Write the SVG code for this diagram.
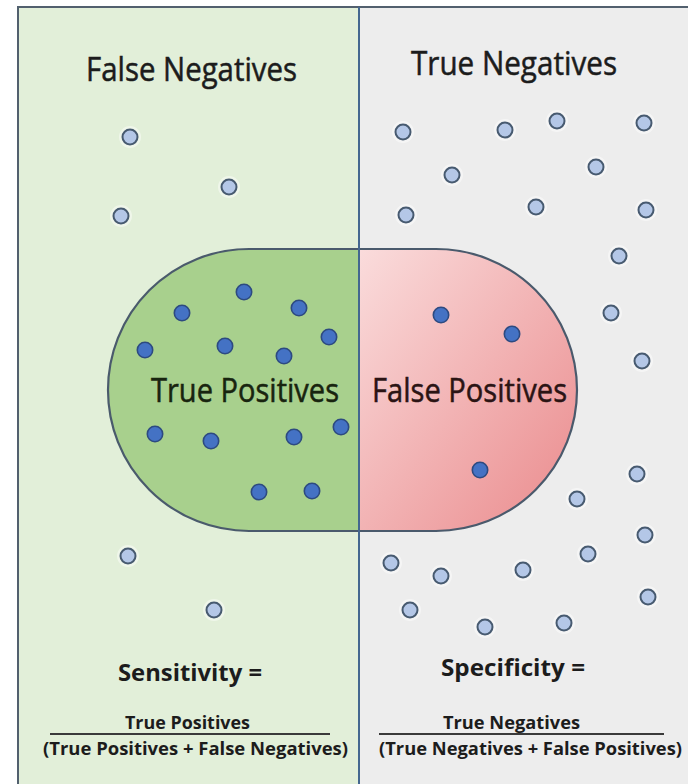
<svg xmlns="http://www.w3.org/2000/svg" xmlns:xlink="http://www.w3.org/1999/xlink" width="692" height="784" viewBox="0 0 692 784">
<style>
.title{font-family:"Open Sans","Liberation Sans",sans-serif;font-size:32px;fill:#1c1c1c;stroke:#1c1c1c;stroke-width:0.5}
.lab{font-family:"Open Sans","Liberation Sans",sans-serif;font-size:32px;stroke-width:0.5}
.eq{font-family:"Open Sans","Liberation Sans",sans-serif;font-weight:bold;font-size:24px;fill:#1c1c1c}
.fr{font-family:"Open Sans","Liberation Sans",sans-serif;font-weight:bold;font-size:18px;fill:#1c1c1c}
.frac{stroke:#3a3a3a;stroke-width:2}
.dk{fill:#4472c4;stroke:#2d4a80;stroke-width:1.6}
</style>
<defs>
<linearGradient id="pink" x1="0" y1="0" x2="1" y2="1">
<stop offset="0" stop-color="#fadcdc"/>
<stop offset="1" stop-color="#ea8a8c"/>
</linearGradient>
<g id="lt">
<circle r="11" fill="#ffffff" opacity="0.45"/>
<circle r="7.5" fill="#b4c7e7" stroke="#475a70" stroke-width="2"/>
</g>
</defs>
<rect x="0" y="0" width="692" height="784" fill="#ffffff"/>
<g id="panel-left">
<rect x="18" y="7" width="341" height="777" fill="#e2efd9"/>
<text class="title" x="86" y="81" textLength="211" lengthAdjust="spacingAndGlyphs">False Negatives</text>
</g>
<g id="panel-right">
<rect x="359" y="7" width="329" height="777" fill="#ededed"/>
<text class="title" x="411" y="75" textLength="206" lengthAdjust="spacingAndGlyphs">True Negatives</text>
</g>
<g id="frame">
<path d="M18 784 V7 H688" fill="none" stroke="#52606e" stroke-width="2"/>
</g>
<g id="true-positives">
<path d="M359 249 H249 A141 141 0 0 0 249 531 H359 Z" fill="#a8d08d"/>
</g>
<g id="false-positives">
<path d="M359 249 H436 A141 141 0 0 1 436 531 H359 Z" fill="url(#pink)"/>
</g>
<g id="condition-outline">
<path d="M249 249 H436 A141 141 0 0 1 436 531 H249 A141 141 0 0 1 249 249 Z" fill="none" stroke="#4a5a6c" stroke-width="2.2"/>
</g>
<g id="connectors">
<line x1="359" y1="7" x2="359" y2="784" stroke="#44678f" stroke-width="2"/>
</g>
<g id="labels">
<text class="lab" x="151" y="402" fill="#18240f" stroke="#18240f" textLength="188" lengthAdjust="spacingAndGlyphs">True Positives</text>
<text class="lab" x="372" y="402" fill="#2b1414" stroke="#2b1414" textLength="195" lengthAdjust="spacingAndGlyphs">False Positives</text>
</g>
<g id="dots-dark">
<circle class="dk" cx="244" cy="292" r="7.7"/>
<circle class="dk" cx="182" cy="313" r="7.7"/>
<circle class="dk" cx="299" cy="308" r="7.7"/>
<circle class="dk" cx="329" cy="337" r="7.7"/>
<circle class="dk" cx="145" cy="350" r="7.7"/>
<circle class="dk" cx="225" cy="346" r="7.7"/>
<circle class="dk" cx="284" cy="356" r="7.7"/>
<circle class="dk" cx="155" cy="434" r="7.7"/>
<circle class="dk" cx="211" cy="441" r="7.7"/>
<circle class="dk" cx="294" cy="437" r="7.7"/>
<circle class="dk" cx="341" cy="427" r="7.7"/>
<circle class="dk" cx="259" cy="492" r="7.7"/>
<circle class="dk" cx="312" cy="491" r="7.7"/>
<circle class="dk" cx="441" cy="315" r="7.7"/>
<circle class="dk" cx="512" cy="334" r="7.7"/>
<circle class="dk" cx="480" cy="470" r="7.7"/>
</g>
<g id="dots-light">
<use xlink:href="#lt" x="130" y="137"/>
<use xlink:href="#lt" x="229" y="187"/>
<use xlink:href="#lt" x="121" y="216"/>
<use xlink:href="#lt" x="128" y="556"/>
<use xlink:href="#lt" x="214" y="610"/>
<use xlink:href="#lt" x="403" y="132"/>
<use xlink:href="#lt" x="505" y="130"/>
<use xlink:href="#lt" x="557" y="121"/>
<use xlink:href="#lt" x="644" y="123"/>
<use xlink:href="#lt" x="452" y="175"/>
<use xlink:href="#lt" x="596" y="167"/>
<use xlink:href="#lt" x="406" y="215"/>
<use xlink:href="#lt" x="536" y="207"/>
<use xlink:href="#lt" x="646" y="210"/>
<use xlink:href="#lt" x="619" y="256"/>
<use xlink:href="#lt" x="611" y="313"/>
<use xlink:href="#lt" x="642" y="361"/>
<use xlink:href="#lt" x="637" y="474"/>
<use xlink:href="#lt" x="577" y="499"/>
<use xlink:href="#lt" x="645" y="535"/>
<use xlink:href="#lt" x="588" y="554"/>
<use xlink:href="#lt" x="391" y="563"/>
<use xlink:href="#lt" x="441" y="576"/>
<use xlink:href="#lt" x="523" y="570"/>
<use xlink:href="#lt" x="648" y="597"/>
<use xlink:href="#lt" x="410" y="610"/>
<use xlink:href="#lt" x="485" y="627"/>
<use xlink:href="#lt" x="564" y="623"/>
</g>
<g id="sensitivity">
<text class="eq" x="118" y="681" textLength="144" lengthAdjust="spacingAndGlyphs">Sensitivity =</text>
<text class="fr" x="125" y="729" textLength="125" lengthAdjust="spacingAndGlyphs">True Positives</text>
<line class="frac" x1="50" y1="734" x2="330" y2="734"/>
<text class="fr" x="43" y="755" textLength="305" lengthAdjust="spacingAndGlyphs">(True Positives + False Negatives)</text>
</g>
<g id="specificity">
<text class="eq" x="441" y="676" textLength="144" lengthAdjust="spacingAndGlyphs">Specificity =</text>
<text class="fr" x="443" y="729" textLength="137" lengthAdjust="spacingAndGlyphs">True Negatives</text>
<line class="frac" x1="379" y1="734" x2="664" y2="734"/>
<text class="fr" x="379" y="755" textLength="303" lengthAdjust="spacingAndGlyphs">(True Negatives + False Positives)</text>
</g>
</svg>
